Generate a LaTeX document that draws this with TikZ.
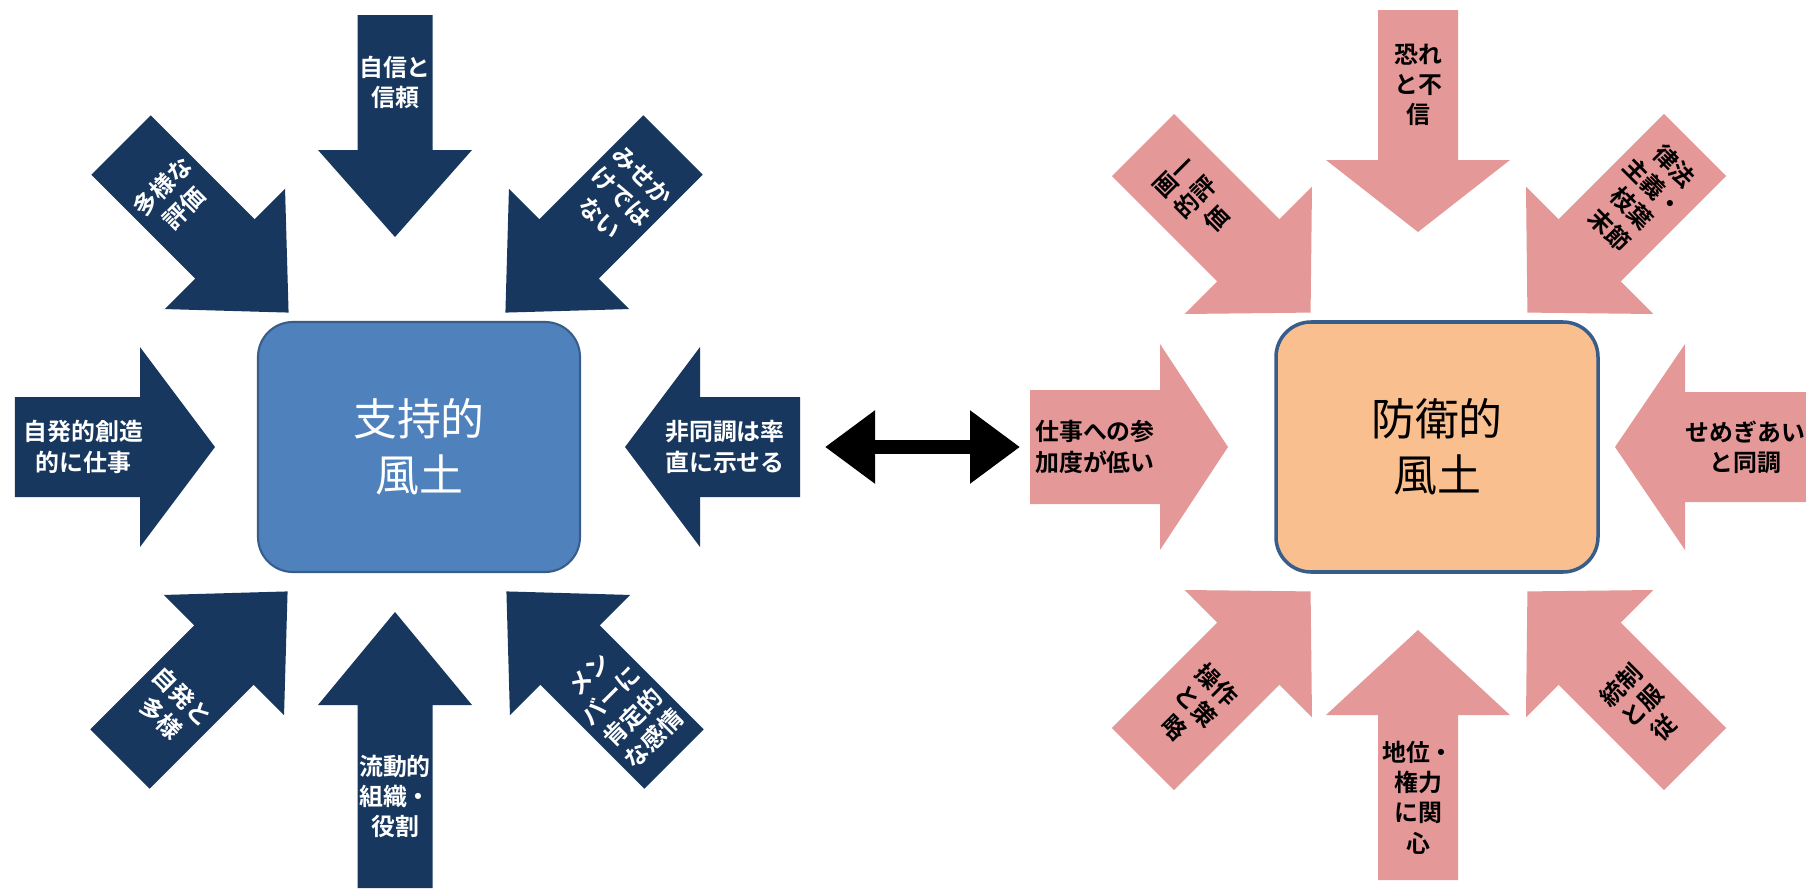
\documentclass[tikz,border=0pt]{standalone}
\usepackage{fontspec}
\setmainfont{Noto Sans CJK JP}[BoldFont={Noto Sans CJK JP Bold}]
\usepackage{xcolor}
\usepackage{tikz}
\usetikzlibrary{arrows.meta}

\definecolor{navy}{RGB}{23,55,94}
\definecolor{midblue}{RGB}{79,129,189}
\definecolor{edgeblue}{RGB}{56,93,138}
\definecolor{rosa}{RGB}{229,152,152}
\definecolor{peach}{RGB}{250,191,143}

\begin{document}
\begin{tikzpicture}[
		pics/barrow/.style args={#1/#2/#3/#4}{code={
			\fill (0,-#2) -- ({#1-#4},-#2) -- ({#1-#4},-#3) -- (#1,0) -- ({#1-#4},#3) -- ({#1-#4},#2) -- (0,#2) -- cycle;
			\coordinate (-tail) at (0,0);
			\coordinate (-mid) at ({(#1-#4)/2},0);
		}},
		bluearrow/.style={fill=navy},
		pinkarrow/.style={fill=rosa},
		bluetext/.style={text=white, font=\fontsize{6.8}{8.6}\selectfont\bfseries, align=center, inner sep=0pt},
		pinktext/.style={bluetext, text=black},
		climate/.style={rounded corners=0.35cm, minimum width=3.22cm, minimum height=2.5cm, align=center, font=\fontsize{12.5}{16}\selectfont}]
		\useasboundingbox[fill=white] (0,0) rectangle (18.06,8.88);
		
		\node[climate, fill=midblue, draw=edgeblue, line width=0.6pt, text=white] (sup) at (4.19,4.41) {支持的\\風土};
		\pic[bluearrow, rotate=-90] (bT) at (3.95,8.73) {barrow=2.22/0.375/0.77/0.87};
		\pic[bluearrow, rotate=90] (bB) at (3.95,0) {barrow=2.76/0.375/0.77/0.93};
		\pic[bluearrow] (bL) at (0.15,4.41) {barrow=2.00/0.50/1.00/0.75};
		\pic[bluearrow, rotate=180] (bR) at (8.00,4.41) {barrow=1.75/0.50/1.00/0.75};
		\pic[bluearrow, rotate=-45] (bTL) at (1.21,7.43) {barrow=2.37/0.42/0.85/0.90};
		\pic[bluearrow, rotate=-135] (bTR) at (6.73,7.43) {barrow=2.37/0.42/0.85/0.90};
		\pic[bluearrow, rotate=45] (bBL) at (1.20,1.29) {barrow=2.37/0.42/0.85/0.90};
		\pic[bluearrow, rotate=135] (bBR) at (6.74,1.29) {barrow=2.37/0.42/0.85/0.90};
		\node[bluetext] (bTt) at (bT-mid) {自信と\\信頼};
		\node[bluetext] (bBt) at (bB-mid) {流動的\\組織・\\役割};
		\node[bluetext] (bLt) at ([xshift=0.06cm]bL-mid) {自発的創造\\的に仕事};
		\node[bluetext] (bRt) at ([xshift=-0.25cm]bR-mid) {非同調は率\\直に示せる};
		\node[bluetext, rotate=45] (bTLt) at (bTL-mid) {多様な\\評価};
		\node[bluetext, rotate=-45] (bTRt) at (bTR-mid) {みせか\\けでは\\ない};
		\node[bluetext, rotate=-45] (bBLt) at (bBL-mid) {自発と\\多様};
		\node[bluetext, rotate=45] (bBRt) at (bBR-mid) {メン\\バーに\\肯定的\\な感情};
		
		\node[climate, fill=peach, draw=edgeblue, line width=1pt] (def) at (14.37,4.41) {防衛的\\風土};
		\pic[pinkarrow, rotate=-90] (pT) at (14.18,8.78) {barrow=2.22/0.40/0.92/0.72};
		\pic[pinkarrow, rotate=90] (pB) at (14.18,0.08) {barrow=2.50/0.40/0.92/0.85};
		\pic[pinkarrow] (pL) at (10.30,4.41) {barrow=1.98/0.57/1.03/0.68};
		\pic[pinkarrow, rotate=180] (pR) at (18.06,4.41) {barrow=1.91/0.55/1.03/0.70};
		\pic[pinkarrow, rotate=-45] (pTL) at (11.43,7.43) {barrow=2.37/0.44/0.90/0.88};
		\pic[pinkarrow, rotate=-135] (pTR) at (16.95,7.43) {barrow=2.37/0.44/0.90/0.88};
		\pic[pinkarrow, rotate=45] (pBL) at (11.43,1.29) {barrow=2.37/0.44/0.90/0.88};
		\pic[pinkarrow, rotate=135] (pBR) at (16.95,1.29) {barrow=2.37/0.44/0.90/0.88};
		\node[pinktext] (pTt) at (pT-mid) {恐れ\\と不\\信};
		\node[pinktext] (pBt) at (pB-mid) {地位・\\権力\\に関\\心};
		\node[pinktext] (pLt) at (pL-mid) {仕事への参\\加度が低い};
		\node[pinktext] (pRt) at (pR-mid) {せめぎあい\\と同調};
		\node[pinktext, rotate=45] (pTLt) at (pTL-mid) {画一\\的評\\価};
		\node[pinktext, rotate=-45] (pTRt) at (pTR-mid) {律法\\主義・\\枝葉\\末節};
		\node[pinktext, rotate=-45] (pBLt) at (pBL-mid) {操作\\と策\\略};
		\node[pinktext, rotate=45] (pBRt) at (pBR-mid) {統制\\と服\\従};
		
		\draw[line width=0.14cm, {Triangle[length=0.5cm,width=0.7cm]}-{Triangle[length=0.5cm,width=0.7cm]}] ([xshift=0.25cm]bR-tail) -- ([xshift=-0.1cm]pL-tail);
\end{tikzpicture}
\end{document}
